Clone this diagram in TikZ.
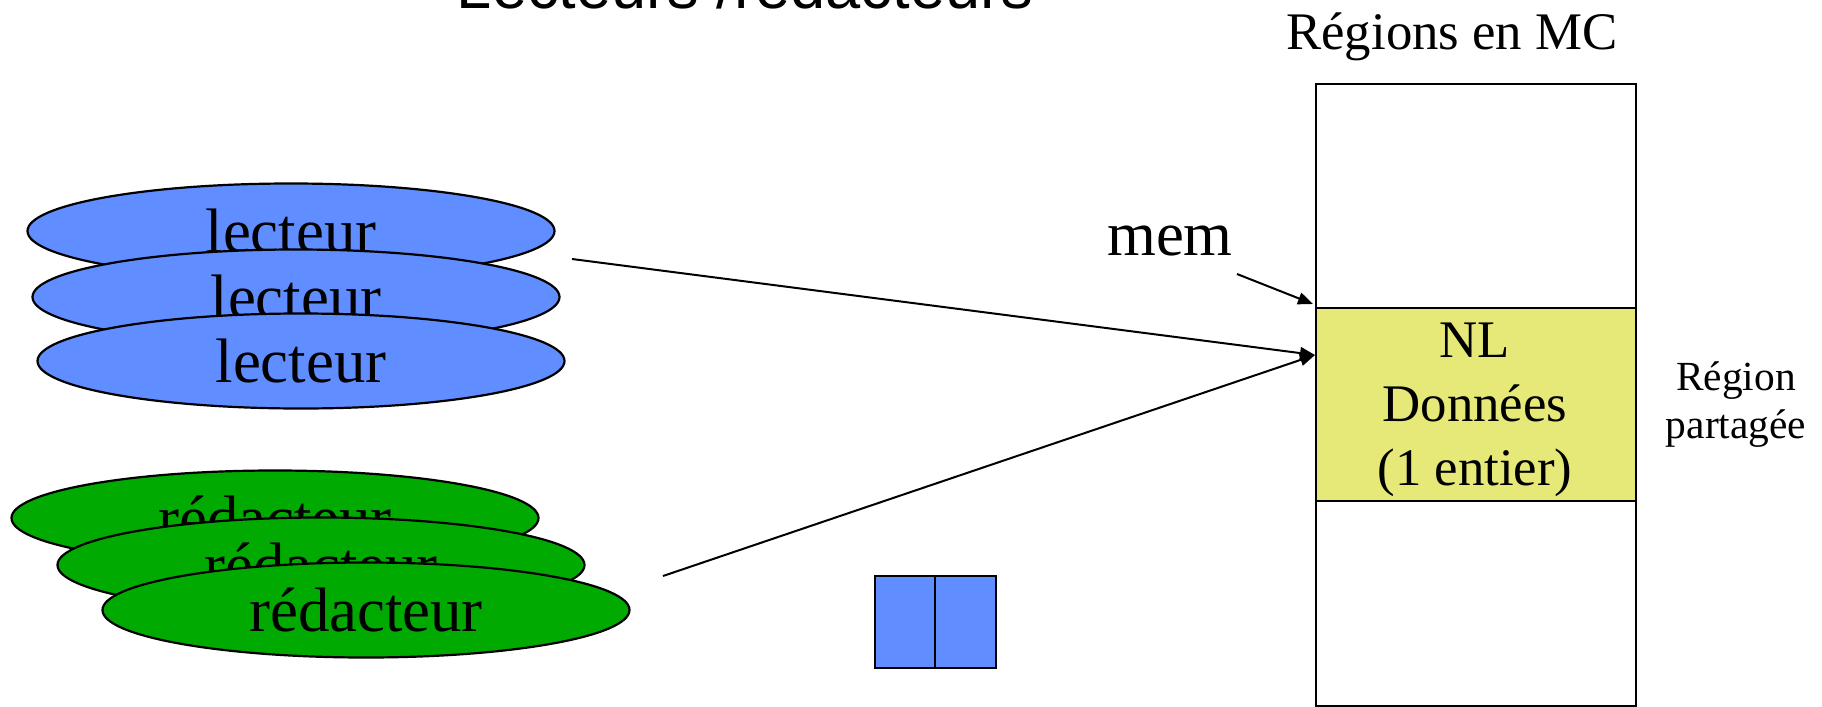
\documentclass[tikz,border=0pt]{standalone}
\usepackage{fontspec}
\setmainfont{Liberation Serif}
\newfontfamily\titlefont{Liberation Sans}
\usetikzlibrary{shapes.geometric,arrows.meta}
\definecolor{lblue}{RGB}{96,141,255}
\definecolor{rgreen}{RGB}{0,170,0}
\definecolor{nyellow}{RGB}{230,232,120}
\begin{document}
\begin{tikzpicture}[x=0.5pt,y=-0.5pt,
  lect/.style={ellipse, draw, line width=1.1pt, fill=lblue, minimum width=263.5pt, minimum height=47.5pt, inner sep=0pt, font=\fontsize{31.4}{36}\selectfont},
  redac/.style={lect, fill=rgreen},
  membox/.style={draw, line width=1pt, minimum width=160pt, inner sep=0pt, anchor=north west},
  sq/.style={draw, line width=1.2pt, fill=lblue, minimum height=46pt, inner sep=0pt, anchor=north west},
  arr/.style={line width=1pt, -{Triangle[length=7.5pt,width=6pt]}},
  lbl/.style={inner sep=0pt, anchor=base}
]
\useasboundingbox (0,0) rectangle (1822,707);
% title (cut off at top)
\node[lbl, font=\titlefont\fontsize{31.6}{36}\selectfont] (title) at (745,8) {Lecteurs /rédacteurs};
% readers
\node[lect] (l1) at (291,231) {lecteur};
\node[lect] (l2) at (296,297) {lecteur};
\node[lect] (l3) at (301,361) {lecteur};
% writers
\node[redac] (r1) at (275,518) {rédacteur};
\node[redac] (r2) at (321,565) {rédacteur};
\node[redac] (r3) at (366,610) {rédacteur};
% memory regions
\node[lbl, font=\fontsize{26.4}{30}\selectfont] (mc) at (1452,49) {Régions en MC};
\node[membox, minimum height=112pt] (top) at (1315,83) {};
\node[membox, minimum height=96.5pt, fill=nyellow] (mid) at (1315,307) {};
\node[inner sep=0pt, align=center, font=\fontsize{26.4}{32}\selectfont] (midtxt) at (1475,410) {NL\\Données\\(1 entier)};
\node[membox, minimum height=102.5pt] (bot) at (1315,500) {};
\node[inner sep=0pt, align=center, font=\fontsize{20.7}{24}\selectfont] (rp) at (1736,405) {Région\\partagée};
\node[lbl, font=\fontsize{31.4}{36}\selectfont] (mem) at (1170,255) {mem};
% small squares
\node[sq, minimum width=30pt] (s1) at (874,575) {};
\node[sq, minimum width=30.5pt] (s2) at (934,575) {};
% arrows
\coordinate (ls) at (572,259);
\coordinate (rs) at (663,576);
\coordinate (ms) at (1237,274);
\coordinate (memt) at (1313,304);
\coordinate (tgt) at (1315,355);
\draw[arr] (ls) -- (tgt);
\draw[arr] (rs) -- (tgt);
\draw[arr] (ms) -- (memt);
\end{tikzpicture}
\end{document}
